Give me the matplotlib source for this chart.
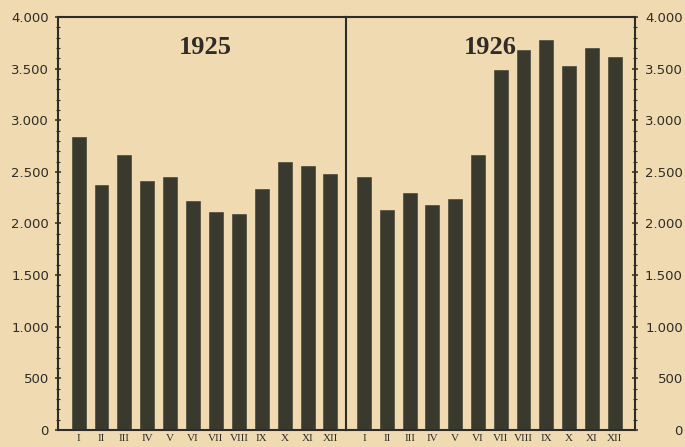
import numpy as np
import matplotlib.pyplot as plt
from matplotlib.ticker import MultipleLocator, FuncFormatter

months = ['I', 'II', 'III', 'IV', 'V', 'VI', 'VII', 'VIII', 'IX', 'X', 'XI', 'XII']
values_1925 = [2840, 2375, 2665, 2410, 2450, 2220, 2110, 2090, 2335, 2595, 2560, 2480]
values_1926 = [2450, 2130, 2295, 2180, 2235, 2665, 3485, 3680, 3775, 3525, 3700, 3615]

paper = '#f0dab2'
ink = '#2e2c25'
bar_color = '#3a392e'

fig = plt.figure(figsize=(6.85, 4.47), dpi=100)
fig.patch.set_facecolor(paper)

W, H = 685.0, 447.0
x0, xm, x1 = 58, 346, 635
y_top, y_bot = 17, 430
ax1 = fig.add_axes([x0 / W, 1 - y_bot / H, (xm - x0) / W, (y_bot - y_top) / H])
ax2 = fig.add_axes([xm / W, 1 - y_bot / H, (x1 - xm) / W, (y_bot - y_top) / H])


def thousands(v, pos):
    return '{:,}'.format(int(v)).replace(',', '.')


for ax, vals, year, xlim, tx in [(ax1, values_1925, '1925', (-0.9, 11.68), 0.51),
                                  (ax2, values_1926, '1926', (-0.79, 11.89), 0.50)]:
    # figure background shows through, so the shared divider is not half-covered
    ax.set_facecolor('none')
    x = np.arange(len(months))
    ax.bar(x, vals, width=0.61, color=bar_color, edgecolor=bar_color, linewidth=0.4)
    ax.set_xlim(*xlim)
    ax.set_ylim(0, 4000)
    ax.set_xticks(x)
    ax.set_xticklabels(months, fontsize=8, family='Liberation Serif', color=ink)
    ax.tick_params(axis='x', length=0, pad=3)
    ax.text(tx, 0.955, year, transform=ax.transAxes, ha='center', va='top',
            fontsize=19, fontweight='bold', family='Liberation Serif', color=ink)
    for s in ax.spines.values():
        s.set_color(ink)
        s.set_linewidth(1.5)
    ax.yaxis.set_major_locator(MultipleLocator(500))
    ax.yaxis.set_minor_locator(MultipleLocator(100))
    ax.yaxis.set_major_formatter(FuncFormatter(thousands))

ax2.spines['left'].set_visible(False)

ax1.tick_params(axis='y', which='major', direction='inout', length=5, width=1.1,
                color=ink, labelsize=9.5, labelcolor=ink, pad=4)
ax1.tick_params(axis='y', which='minor', direction='inout', length=2.5, width=0.8, color=ink)

ax2.yaxis.tick_right()
ax2.tick_params(axis='y', which='major', direction='inout', length=5, width=1.1,
                color=ink, labelsize=9.5, labelcolor=ink, pad=32)
ax2.tick_params(axis='y', which='minor', direction='inout', length=2.5, width=0.8, color=ink)
for lab in ax2.get_yticklabels():
    lab.set_horizontalalignment('right')

plt.savefig('out.png', dpi=100, facecolor=paper)
